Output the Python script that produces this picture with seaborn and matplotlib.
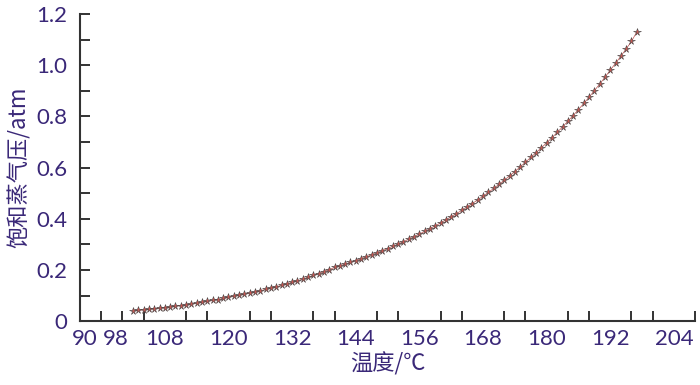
import numpy as np
import pandas as pd
import matplotlib
matplotlib.use("Agg")
import matplotlib.pyplot as plt
import seaborn as sns
from matplotlib.ticker import MultipleLocator

sns.set_style("ticks")
plt.rcParams['font.family'] = ['Lato', 'Noto Sans CJK SC', 'DejaVu Sans']

# %%
# values
temperature = list(range(102, 198))
pressure = [
    0.0400, 0.0419, 0.0439, 0.0460, 0.0482, 0.0505, 0.0529, 0.0554, 0.0581, 0.0608,
    0.0637, 0.0668, 0.0700, 0.0733, 0.0768, 0.0805, 0.0843, 0.0883, 0.0925, 0.0970,
    0.1010, 0.1052, 0.1095, 0.1141, 0.1188, 0.1237, 0.1288, 0.1342, 0.1397, 0.1455,
    0.1515, 0.1578, 0.1643, 0.1711, 0.1782, 0.1856, 0.1933, 0.2013, 0.2096, 0.2160,
    0.2227, 0.2295, 0.2366, 0.2438, 0.2513, 0.2590, 0.2670, 0.2752, 0.2836, 0.2923,
    0.3013, 0.3105, 0.3201, 0.3299, 0.3400, 0.3505, 0.3612, 0.3723, 0.3837, 0.3954,
    0.4074, 0.4199, 0.4327, 0.4459, 0.4595, 0.4735, 0.4879, 0.5028, 0.5182, 0.5340,
    0.5503, 0.5670, 0.5843, 0.6022, 0.6205, 0.6395, 0.6580, 0.6770, 0.6966, 0.7167,
    0.7374, 0.7588, 0.7807, 0.8033, 0.8265, 0.8504, 0.8750, 0.9003, 0.9263, 0.9531,
    0.9806, 1.0076, 1.0353, 1.0638, 1.0930, 1.1300,
]
xtick_pos = [92.8, 98.8, 108, 120, 132, 144, 156, 168, 180, 192, 204]
xtick_labels = ["90", "98", "108", "120", "132", "144", "156", "168", "180", "192", "204"]
ytick_pos = [0, 0.2, 0.4, 0.6, 0.8, 1.0, 1.2]
ytick_labels = ["0", "0.2", "0.4", "0.6", "0.8", "1.0", "1.2"]

df = pd.DataFrame({"T": temperature, "p": pressure})

# %%
text_color = "#3a2878"
axis_color = "#333333"
cjk = ['Noto Sans CJK SC', 'DejaVu Sans']

fig = plt.figure(figsize=(7, 3.85), dpi=100)
ax = fig.add_axes([0.1143, 0.166, 0.8787, 0.7976])

sns.lineplot(data=df, x="T", y="p", ax=ax, color="#c0504d", lw=0.5,
             marker="*", markersize=5.5, markerfacecolor="#c8554f",
             markeredgecolor="#444444", markeredgewidth=0.4)

ax.set_xlim(92, 208)
ax.set_ylim(0, 1.2)

# tick marks every 4 / 0.1, labels placed separately
ax.xaxis.set_minor_locator(MultipleLocator(4))
ax.yaxis.set_minor_locator(MultipleLocator(0.1))
ax.set_xticks(xtick_pos)
ax.set_xticklabels(xtick_labels)
ax.set_yticks(ytick_pos)
ax.set_yticklabels(ytick_labels)

ax.tick_params(axis="x", which="major", length=0, pad=6, labelsize=16, labelcolor=text_color)
ax.tick_params(axis="x", which="minor", direction="in", length=7, width=1.4, color=axis_color)
ax.tick_params(axis="y", which="both", direction="in", length=7, width=1.4, color=axis_color)
ax.tick_params(axis="y", which="major", pad=9, labelsize=16, labelcolor=text_color)

sns.despine(ax=ax)
for side in ["left", "bottom"]:
    ax.spines[side].set_linewidth(1.5)
    ax.spines[side].set_color(axis_color)

ax.set_xlabel("温度/℃", fontsize=16, color=text_color, family=cjk, labelpad=2)
ax.set_ylabel("饱和蒸气压/atm", fontsize=16, color=text_color, family=cjk, labelpad=4)

fig.savefig("out.png", dpi=100)
